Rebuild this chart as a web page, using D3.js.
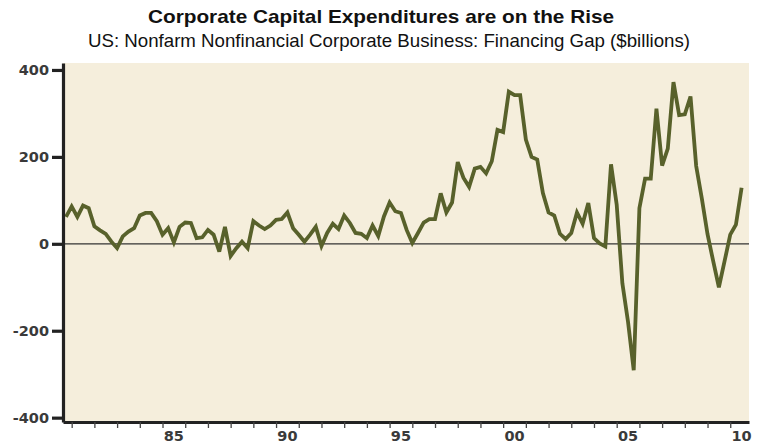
<!DOCTYPE html>
<html>
<head>
<meta charset="utf-8">
<script src="https://cdn.jsdelivr.net/npm/d3@7"></script>
<style>
  html, body { margin: 0; padding: 0; background: #ffffff; }
  svg { display: block; }
</style>
</head>
<body>
<div id="chart"></div>
<script>
// ---- data ----
const titleText = "Corporate Capital Expenditures are on the Rise";
const subtitleText = "US: Nonfarm Nonfinancial Corporate Business: Financing Gap ($billions)";
const firstYear = 1980, firstQuarter = 3;           // series starts 1980 Q3, quarterly
const gapValues = [
  62, 86, 62, 88, 82, 40, 31, 23, 5, -10,
  17, 28, 36, 65, 71, 71, 52, 21, 36, 3,
  39, 49, 48, 13, 15, 32, 21, -18, 39, -28,
  -10, 5, -10, 52, 42, 34, 42, 55, 57, 72,
  36, 21, 5, 21, 39, -5, 25, 46, 34, 65,
  48, 25, 23, 13, 42, 18, 63, 95, 75, 71,
  32, 2, 25, 49, 57, 57, 116, 72, 95, 188,
  152, 131, 173, 177, 162, 190, 262, 257, 350, 342,
  342, 240, 200, 194, 117, 72, 65, 23, 11, 25,
  72, 46, 94, 13, 1, -6, 183, 90, -91, -180,
  -291, 82, 150, 150, 311, 180, 219, 372, 296, 298,
  339, 179, 104, 22, -40, -100, -40, 21, 44, 129
];
const quarters = gapValues.map((_, i) => {
  const q0 = firstQuarter - 1 + i;
  return (firstYear + Math.floor(q0 / 4)) + "Q" + (q0 % 4 + 1);
});
const yTickValues = [-400, -200, 0, 200, 400];
const yTickLabels = ["-400", "-200", "0", "200", "400"];
const xMinorTickYears = d3.range(1981, 2011);
const xLabelYears = [1985, 1990, 1995, 2000, 2005, 2010];
const xLabelTexts = ["85", "90", "95", "00", "05", "10"];

// ---- layout ----
const W = 761, H = 445;
const svg = d3.select("#chart").append("svg").attr("width", W).attr("height", H);

const qTime = s => { const y = +s.slice(0, 4), q = +s.slice(5); return y + q / 4; };

const x = d3.scaleLinear().domain([1980.618, 2010.826]).range([63, 749]);
const y = d3.scaleLinear().domain([-410, 416]).range([422, 63]);

// background
svg.append("rect")
  .attr("x", x.range()[0]).attr("y", y.range()[1])
  .attr("width", x.range()[1] - x.range()[0])
  .attr("height", y.range()[0] - y.range()[1])
  .attr("fill", "#f5eedc");

// titles
svg.append("text").attr("x", 381).attr("y", 23).attr("text-anchor", "middle")
  .attr("font-family", "Liberation Sans, Arial, sans-serif").attr("font-weight", "bold")
  .attr("font-size", 18.5).attr("fill", "#111")
  .attr("textLength", 466).attr("lengthAdjust", "spacingAndGlyphs")
  .text(titleText);
svg.append("text").attr("x", 389).attr("y", 47).attr("text-anchor", "middle")
  .attr("font-family", "Liberation Sans, Arial, sans-serif")
  .attr("font-size", 18.5).attr("fill", "#111")
  .attr("textLength", 602).attr("lengthAdjust", "spacingAndGlyphs")
  .text(subtitleText);

// zero line
svg.append("line")
  .attr("x1", x.range()[0]).attr("x2", x.range()[1])
  .attr("y1", y(0)).attr("y2", y(0))
  .attr("stroke", "#333").attr("stroke-width", 1.3);

// series line
const line = d3.line().x((d, i) => x(qTime(quarters[i]))).y(d => y(d));
svg.append("path").datum(gapValues)
  .attr("d", line)
  .attr("fill", "none")
  .attr("stroke", "#58612b")
  .attr("stroke-width", 3.8)
  .attr("stroke-linejoin", "miter")
  .attr("stroke-miterlimit", 3);

// y axis
const yAxis = svg.append("g").attr("transform", `translate(${x.range()[0]},0)`)
  .call(d3.axisLeft(y).tickValues(yTickValues).tickSize(11).tickSizeOuter(0).tickPadding(3)
        .tickFormat((d, i) => yTickLabels[i]));
yAxis.select(".domain").attr("stroke", "#222").attr("stroke-width", 3.2);
yAxis.selectAll(".tick line").attr("stroke", "#222").attr("stroke-width", 3.2);
yAxis.selectAll(".tick text")
  .attr("font-family", "DejaVu Sans, Verdana, sans-serif").attr("font-weight", "bold")
  .attr("font-size", 14.5).attr("fill", "#3a3a3a");

// x axis
const xAxis = svg.append("g").attr("transform", `translate(0,${y.range()[0]})`)
  .call(d3.axisBottom(x).tickValues(xMinorTickYears).tickSize(6).tickSizeOuter(0).tickFormat(""));
xAxis.select(".domain").attr("stroke", "#222").attr("stroke-width", 3);
xAxis.selectAll(".tick line").attr("stroke", "#444").attr("stroke-width", 1.3);

svg.append("g").selectAll("text").data(xLabelYears).join("text")
  .attr("x", d => x(d + 0.5)).attr("y", 441)
  .attr("text-anchor", "middle")
  .attr("font-family", "DejaVu Sans, Verdana, sans-serif").attr("font-weight", "bold")
  .attr("font-size", 14.5).attr("fill", "#3a3a3a")
  .text((d, i) => xLabelTexts[i]);
</script>
</body>
</html>
